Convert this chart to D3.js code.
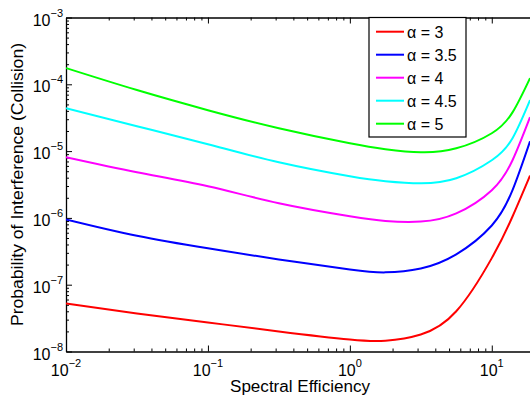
<!DOCTYPE html>
<html>
<head>
<meta charset="utf-8">
<script src="https://cdn.jsdelivr.net/npm/d3@7"></script>
<style>
  html, body { margin: 0; padding: 0; background: #fff; }
  svg { display: block; font-family: "Liberation Sans", Arial, Helvetica, sans-serif; }
</style>
</head>
<body>
<script>
// ---- data ----
const spectralEfficiency = [0.01, 0.0316, 0.1, 0.316, 1, 1.78, 3.16, 5.62, 10, 14, 18.6];
const alpha3  = [5.25e-8, 3.72e-8, 2.72e-8, 2.0e-8, 1.51e-8, 1.45e-8, 1.8e-8, 4.0e-8, 2.5e-7, 1.05e-6, 4.3e-6];
const alpha35 = [9.5e-7, 5.4e-7, 3.5e-7, 2.39e-7, 1.69e-7, 1.53e-7, 1.75e-7, 2.85e-7, 7.7e-7, 2.6e-6, 1.4e-5];
const alpha4  = [8.1e-6, 4.83e-6, 2.98e-6, 1.66e-6, 1.06e-6, 9.0e-7, 8.8e-7, 1.17e-6, 2.6e-6, 7.3e-6, 3.22e-5];
const alpha45 = [4.4e-5, 2.36e-5, 1.27e-5, 6.8e-6, 4.2e-6, 3.54e-6, 3.3e-6, 3.93e-6, 7.3e-6, 1.56e-5, 5.8e-5];
const alpha5  = [1.75e-4, 8.2e-5, 4.1e-5, 2.2e-5, 1.31e-5, 1.07e-5, 9.6e-6, 1.1e-5, 1.85e-5, 3.8e-5, 1.24e-4];
const seriesNames = ["\u03B1 = 3", "\u03B1 = 3.5", "\u03B1 = 4", "\u03B1 = 4.5", "\u03B1 = 5"];
const seriesColors = ["#ff0000", "#0000ff", "#ff00ff", "#00ffff", "#00ff00"];
const seriesValues = [alpha3, alpha35, alpha4, alpha45, alpha5];
const xMajorTicks = [0.01, 0.1, 1, 10];
const xTickExponents = ["\u22122", "\u22121", "0", "1"];
const yMajorTicks = [1e-8, 1e-7, 1e-6, 1e-5, 1e-4, 1e-3];
const yTickExponents = ["\u22128", "\u22127", "\u22126", "\u22125", "\u22124", "\u22123"];
const xLabel = "Spectral Efficiency";
const yLabel = "Probability of Interference (Collision)";

// ---- layout ----
const W = 530, H = 400;
const L = 66, T = 17.5, B = 351.5, R = 534.5;

const svg = d3.select("body").append("svg").attr("width", W).attr("height", H);

const x = d3.scaleLog().domain([0.01, 20]).range([L, R]);
const y = d3.scaleLog().domain([1e-8, 1e-3]).range([B, T]);

function minorTicks(lo, hi) {
  const out = [];
  for (let e = Math.floor(Math.log10(lo)); e <= Math.ceil(Math.log10(hi)); e++) {
    for (let m = 2; m <= 9; m++) {
      const v = m * Math.pow(10, e);
      if (v > lo && v < hi) out.push(v);
    }
  }
  return out;
}
const xMinor = minorTicks(0.01, 20);
const yMinor = minorTicks(1e-8, 1e-3);

const axisG = svg.append("g").attr("class", "axes");
function drawAxis(gen, tr, major, minor) {
  const g1 = axisG.append("g").attr("transform", tr)
    .call(gen.tickValues(major).tickSize(-6).tickSizeOuter(0).tickFormat(""));
  const g2 = axisG.append("g").attr("transform", tr)
    .call(gen.tickValues(minor).tickSize(-3).tickSizeOuter(0).tickFormat(""));
  g2.select(".domain").remove();
  [g1, g2].forEach(g => {
    g.selectAll("line").attr("stroke", "#000").attr("stroke-width", 1);
    g.select(".domain").attr("stroke", "#000").attr("stroke-width", 1.3);
  });
}
drawAxis(d3.axisBottom(x), `translate(0,${B})`, xMajorTicks, xMinor);
drawAxis(d3.axisTop(x), `translate(0,${T})`, xMajorTicks, xMinor);
drawAxis(d3.axisLeft(y), `translate(${L},0)`, yMajorTicks, yMinor);

// tick labels
const xl = svg.append("g").selectAll("text").data(xMajorTicks).join("text")
  .attr("x", d => x(d)).attr("y", 376).attr("text-anchor", "middle")
  .attr("font-size", 16).attr("fill", "#000");
xl.append("tspan").text("10");
xl.append("tspan").attr("dy", -9).attr("font-size", 11).text((d, i) => xTickExponents[i]);

const yl = svg.append("g").selectAll("text").data(yMajorTicks).join("text")
  .attr("x", 63).attr("y", d => y(d) + 8).attr("text-anchor", "end")
  .attr("font-size", 16).attr("fill", "#000");
yl.append("tspan").text("10");
yl.append("tspan").attr("dy", -9).attr("font-size", 11).text((d, i) => yTickExponents[i]);

// axis titles
svg.append("text").attr("x", 300).attr("y", 392).attr("text-anchor", "middle")
  .attr("font-size", 16).attr("fill", "#000")
  .attr("textLength", 140).attr("lengthAdjust", "spacingAndGlyphs").text(xLabel);
svg.append("text").attr("transform", `translate(23,${(T + B) / 2}) rotate(-90)`)
  .attr("text-anchor", "middle").attr("font-size", 16).attr("fill", "#000")
  .attr("textLength", 283).attr("lengthAdjust", "spacingAndGlyphs").text(yLabel);

// curves
svg.append("clipPath").attr("id", "plotclip").append("rect")
  .attr("x", L).attr("y", T).attr("width", R - L).attr("height", B - T);
const line = d3.line()
  .x(d => x(d[0])).y(d => y(d[1]))
  .curve(d3.curveNatural);
svg.append("g").attr("clip-path", "url(#plotclip)")
  .selectAll("path").data(seriesValues).join("path")
  .attr("d", vals => line(spectralEfficiency.map((s, i) => [s, vals[i]])))
  .attr("fill", "none")
  .attr("stroke", (d, i) => seriesColors[i])
  .attr("stroke-width", 2);

// legend
const lx = 369, ly = T, lw = 97, lh = 119.5;
const leg = svg.append("g");
leg.append("rect").attr("x", lx).attr("y", ly).attr("width", lw).attr("height", lh)
  .attr("fill", "#fff").attr("stroke", "#000").attr("stroke-width", 1.2);
const items = leg.selectAll("g.item").data(seriesNames).join("g").attr("class", "item")
  .attr("transform", (d, i) => `translate(0,${31.7 + i * 23})`);
items.append("line").attr("x1", 376).attr("x2", 404).attr("y1", 0).attr("y2", 0)
  .attr("stroke", (d, i) => seriesColors[i]).attr("stroke-width", 2);
items.append("text").attr("x", 407).attr("y", 6).attr("font-size", 16).attr("fill", "#000")
  .text(d => d);
</script>
</body>
</html>
